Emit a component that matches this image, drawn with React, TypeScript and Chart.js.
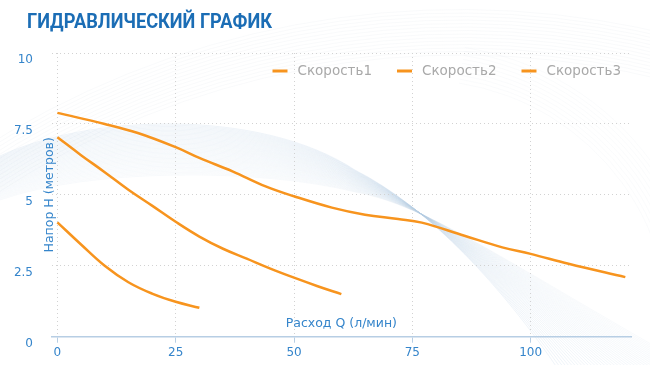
import { useEffect, useRef } from "react";
import { Chart, registerables } from "chart.js";

Chart.register(...registerables);

const chartTitle = "ГИДРАВЛИЧЕСКИЙ ГРАФИК";
const xTitle = "Расход Q (л/мин)";
const yTitle = "Напор H (метров)";
const seriesNames = ["Скорость1", "Скорость2", "Скорость3"];

const flow1 = [0, 5, 10, 15, 20, 25, 30];
const head1 = [4.03, 3.25, 2.5, 1.92, 1.52, 1.23, 1.02];

const flow2 = [0, 5, 10, 15, 20, 25, 30, 35, 40, 45, 50, 55, 60];
const head2 = [7.03, 6.4, 5.8, 5.18, 4.62, 4.05, 3.53, 3.1, 2.75, 2.4, 2.08, 1.78, 1.5];

const flow3 = [0, 10, 17, 25, 30, 37, 44, 50, 58, 65, 72, 77, 86, 94, 100, 108, 120];
const head3 = [7.89, 7.5, 7.18, 6.68, 6.3, 5.83, 5.3, 4.95, 4.55, 4.3, 4.15, 4.02, 3.56, 3.15, 2.92, 2.57, 2.1];

const xStep = 25;
const yStep = 2.5;
const xMin = -1.2;
const xMax = 121.2;
const yMin = 0;
const yMax = 10;

const ORANGE = "#f7941e";
const BLUE = "#3585cb";
const TITLE_BLUE = "#1b6db5";
const FONT = "'DejaVu Sans', sans-serif";

const toPoints = (xs: number[], ys: number[]) => xs.map((x, i) => ({ x, y: ys[i] }));

const lerp = (a: number, b: number, t: number) => a + (b - a) * t;

const decorPlugin = {
  id: "decor",
  beforeDraw(chart: any) {
    const ctx = chart.ctx;
    ctx.save();
    ctx.lineWidth = 1;
    // faint arcs at the top
    for (let i = 0; i < 14; i++) {
      ctx.strokeStyle = "rgba(210,218,228,0.14)";
      ctx.beginPath();
      ctx.arc(460, 900, 845 + i * 3.5, Math.PI * 1.05, Math.PI * 1.97);
      ctx.stroke();
    }
    for (let i = 0; i < 10; i++) {
      ctx.strokeStyle = "rgba(210,218,228,0.1)";
      ctx.beginPath();
      ctx.arc(420, 330, 250 + i * 4, Math.PI * 1.55, Math.PI * 2.1);
      ctx.stroke();
    }
    // light blue swoosh band
    const n = 40;
    for (let k = 0; k <= n; k++) {
      const t = k / n;
      ctx.strokeStyle = `rgba(180,204,226,${0.22 - 0.13 * t})`;
      ctx.beginPath();
      ctx.moveTo(0, lerp(156, 200, t));
      ctx.bezierCurveTo(90, lerp(114, 168, t), 260, lerp(108, 168, t), 355, lerp(170, 192, t));
      ctx.bezierCurveTo(430, lerp(208, 206, t), 505, lerp(290, 262, t), lerp(560, 700, t), 372);
      ctx.stroke();
    }
    ctx.restore();
  },
};

const textPlugin = {
  id: "texts",
  afterDraw(chart: any) {
    const ctx = chart.ctx;
    const area = chart.chartArea;
    ctx.save();

    // main title
    ctx.font = `bold 21px Roboto, sans-serif`;
    ctx.fillStyle = TITLE_BLUE;
    ctx.textBaseline = "alphabetic";
    ctx.textAlign = "left";
    const w = ctx.measureText(chartTitle).width;
    ctx.save();
    ctx.translate(27, 28);
    ctx.scale(245 / w, 1);
    ctx.fillText(chartTitle, 0, 0);
    ctx.restore();

    // x axis title (inside plot, above the axis)
    ctx.font = `12.5px ${FONT}`;
    ctx.fillStyle = BLUE;
    ctx.textAlign = "center";
    ctx.textBaseline = "middle";
    ctx.fillText(xTitle, (area.left + area.right) / 2, 324);

    // y axis title (between tick labels and plot)
    ctx.save();
    ctx.translate(50, (area.top + area.bottom) / 2);
    ctx.rotate(-Math.PI / 2);
    ctx.fillText(yTitle, 0, 0);
    ctx.restore();

    // legend
    ctx.font = `13.5px ${FONT}`;
    const sample = 15;
    const gap = 10;
    const spacing = 25;
    const labels = chart.data.datasets.map((d: any) => d.label);
    const widths = labels.map((l: string) => sample + gap + ctx.measureText(l).width);
    const total = widths.reduce((a: number, b: number) => a + b, 0) + spacing * (labels.length - 1);
    let x = area.right - 10 - total;
    const y = 71;
    labels.forEach((l: string, i: number) => {
      const ds = chart.data.datasets[i];
      ctx.strokeStyle = ds.borderColor;
      ctx.lineWidth = 3;
      ctx.beginPath();
      ctx.moveTo(x, y);
      ctx.lineTo(x + sample, y);
      ctx.stroke();
      ctx.fillStyle = "#a9a9a9";
      ctx.textAlign = "left";
      ctx.textBaseline = "middle";
      ctx.fillText(l, x + sample + gap, y);
      x += widths[i] + spacing;
    });

    ctx.restore();
  },
};

export default function App() {
  const ref = useRef<HTMLCanvasElement | null>(null);

  useEffect(() => {
    if (!ref.current) return;
    const series = [
      toPoints(flow1, head1),
      toPoints(flow2, head2),
      toPoints(flow3, head3),
    ];
    const chart = new Chart(ref.current, {
      type: "line",
      data: {
        datasets: series.map((pts, i) => ({
          label: seriesNames[i],
          data: pts,
          borderColor: ORANGE,
          backgroundColor: ORANGE,
          borderWidth: 2.5,
          pointRadius: 0,
          tension: 0.4,
          fill: false,
        })),
      },
      options: {
        animation: false,
        responsive: false,
        layout: { padding: { top: 53, right: 19, bottom: 0, left: 0 } },
        plugins: {
          legend: { display: false },
          title: { display: false },
          tooltip: { enabled: false },
        },
        scales: {
          x: {
            type: "linear",
            min: xMin,
            max: xMax,
            ticks: {
              stepSize: xStep,
              includeBounds: false,
              color: BLUE,
              font: { family: FONT, size: 12 },
              padding: 3,
            },
            grid: {
              color: "#d2d2d2",
              lineWidth: 1,
              drawTicks: true,
              tickLength: 6,
              tickColor: "#b7cee4",
              tickBorderDash: [],
            },
            border: { display: true, color: "#b7cee4", width: 1.5, dash: [1, 3] },
            afterFit: (scale: any) => {
              scale.height = 28.3;
            },
          },
          y: {
            type: "linear",
            min: yMin,
            max: yMax,
            ticks: {
              stepSize: yStep,
              color: BLUE,
              font: { family: FONT, size: 12 },
              padding: 18.7,
              labelOffset: 7,
            },
            grid: {
              color: "#d2d2d2",
              lineWidth: 1,
              drawTicks: false,
            },
            border: { display: false, dash: [1, 3] },
            afterFit: (scale: any) => {
              scale.width = 51.7;
            },
          },
        },
      },
      plugins: [decorPlugin, textPlugin],
    });
    return () => chart.destroy();
  }, []);

  return (
    <div style={{ position: "absolute", left: 0, top: 0, width: 650, height: 365, background: "#fff" }}>
      <canvas ref={ref} width={650} height={365} style={{ display: "block" }} />
    </div>
  );
}
